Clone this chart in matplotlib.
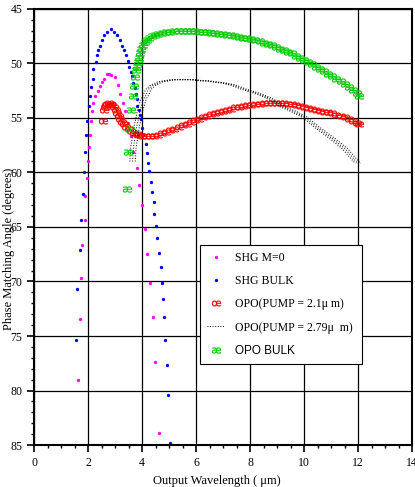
import matplotlib
matplotlib.use('Agg')
import matplotlib.pyplot as plt
from matplotlib.ticker import MultipleLocator

plt.rcParams['font.family'] = ['Liberation Serif', 'DejaVu Serif']

# SHG M=0 (magenta)
shg_m0_x = [1.64, 1.69, 1.75, 1.79, 1.88, 1.88, 1.95, 2.0, 2.03, 2.07, 2.11, 2.15,
            2.2, 2.27, 2.36, 2.43, 2.51, 2.59, 2.7, 2.78, 2.86, 3.0, 3.12, 3.19,
            3.28, 3.37, 3.47, 3.58, 3.68, 3.8, 3.9, 4.01, 4.1, 4.19, 4.3, 4.41,
            4.48, 4.62]
shg_m0_y = [79.0, 73.4, 69.7, 66.7, 64.4, 62.2, 60.5, 59.0, 57.7, 56.6, 55.3, 54.4,
            53.6, 53.0, 52.5, 52.1, 51.7, 51.4, 51.0, 51.0, 51.1, 51.3, 52.0, 52.8,
            53.6, 54.4, 55.5, 56.7, 58.1, 59.6, 61.2, 63.0, 65.2, 67.5, 70.1, 73.3,
            77.4, 83.9]

# SHG BULK (blue)
shg_bulk_x = [1.56, 1.60, 1.69, 1.73, 1.80, 1.84, 1.88, 1.93, 1.97, 2.05, 2.07, 2.10,
              2.20, 2.20, 2.28, 2.32, 2.38, 2.44, 2.52, 2.59, 2.70, 2.84, 2.95, 3.09,
              3.18, 3.27, 3.34, 3.41, 3.47, 3.53, 3.58, 3.64, 3.68, 3.73, 3.77, 3.80,
              3.83, 3.89, 3.91, 3.95, 3.99, 4.05, 4.14, 4.17, 4.21, 4.26, 4.32, 4.37,
              4.46, 4.46, 4.53, 4.57, 4.62, 4.69, 4.74, 4.78, 4.80, 4.85, 4.94, 4.96,
              5.04]
shg_bulk_y = [75.4, 70.7, 67.1, 64.4, 62.0, 60.0, 58.1, 56.6, 55.3, 53.9, 53.0, 52.2,
              51.4, 50.5, 49.9, 49.2, 48.8, 48.4, 47.9, 47.4, 47.1, 46.9, 47.1, 47.4,
              47.9, 48.4, 48.8, 49.2, 49.8, 50.3, 50.8, 51.2, 51.8, 52.3, 52.8, 53.3,
              53.9, 54.3, 54.7, 55.1, 55.9, 56.6, 57.4, 58.2, 59.1, 59.9, 60.9, 61.8,
              62.7, 63.8, 64.9, 66.0, 67.4, 68.7, 70.1, 71.6, 73.3, 75.4, 77.7, 80.4,
              84.8]

# OPO (pump = 2.1 um), red
opo21_x = [2.55, 2.58, 2.62, 2.67, 2.72, 2.78, 2.84, 2.9, 2.96, 3.02, 3.08, 3.14,
           3.2, 3.27, 3.34, 3.42, 3.5, 3.6, 3.7, 3.8, 3.9, 4.0, 4.15, 4.3, 4.45,
           4.6, 4.75, 4.9, 5.05, 5.2, 5.35, 5.5, 5.65, 5.8, 5.95, 6.1, 6.25, 6.4,
           6.55, 6.7, 6.85, 7.0, 7.15, 7.3, 7.45, 7.6, 7.75, 7.9, 8.05, 8.2, 8.35,
           8.5, 8.65, 8.8, 8.95, 9.1, 9.25, 9.4, 9.55, 9.7, 9.85, 10.0, 10.15,
           10.3, 10.45, 10.6, 10.75, 10.9, 11.05, 11.2, 11.35, 11.5, 11.65, 11.8,
           11.95, 12.05]
opo21_y = [55.3, 54.3, 54.0, 53.8, 53.7, 53.65, 53.7, 53.85, 54.05, 54.3, 54.55, 54.8,
           55.1, 55.35, 55.6, 55.85, 56.05, 56.25, 56.4, 56.5, 56.6, 56.65, 56.7, 56.7,
           56.65, 56.55, 56.4, 56.3, 56.15, 56.0, 55.85, 55.7, 55.55, 55.4, 55.2, 55.1,
           54.95, 54.8, 54.65, 54.55, 54.45, 54.35, 54.25, 54.15, 54.05, 54.0, 53.9,
           53.85, 53.8, 53.75, 53.7, 53.65, 53.65, 53.6, 53.6, 53.65, 53.65, 53.7,
           53.75, 53.85, 53.95, 54.05, 54.1, 54.2, 54.25, 54.35, 54.45, 54.5, 54.6,
           54.7, 54.85, 54.95, 55.1, 55.25, 55.45, 55.55]

# OPO (pump = 2.79 um), black; three nearby traces
opo279_x = [3.65, 3.68, 3.76, 3.80, 3.86, 3.93, 3.99, 4.05, 4.15, 4.23, 4.32, 4.42,
            4.55, 4.67, 4.9, 5.16, 5.5, 5.9, 6.15, 6.4, 6.8, 7.0, 7.38, 7.8, 8.2,
            8.62, 9.0, 9.23, 9.6, 10.0, 10.5, 11.1, 11.5, 12.0]
opo279_y = [59.0, 57.7, 56.5, 55.8, 55.2, 54.3, 53.8, 53.3, 52.9, 52.4, 52.2, 52.0,
            51.85, 51.7, 51.6, 51.5, 51.5, 51.5, 51.6, 51.6, 51.75, 51.8, 52.0, 52.4,
            52.7, 53.1, 53.6, 54.0, 54.4, 54.9, 55.9, 57.0, 57.8, 59.2]
opo279_shift = [-0.1, 0.0, 0.1]

# OPO BULK, green
bulk_x = [3.45, 3.49, 3.57, 3.59, 3.65, 3.69, 3.74, 3.78, 3.81, 3.84, 3.88, 3.92,
          3.97, 4.03, 4.1, 4.18, 4.27, 4.37, 4.48, 4.6, 4.75, 4.9, 5.05, 5.2, 5.35,
          5.5, 5.65, 5.8, 5.95, 6.1, 6.25, 6.4, 6.55, 6.7, 6.85, 7.0, 7.15, 7.3,
          7.45, 7.6, 7.75, 7.9, 8.05, 8.2, 8.35, 8.5, 8.65, 8.8, 8.95, 9.1, 9.25,
          9.4, 9.55, 9.7, 9.85, 10.0, 10.15, 10.3, 10.45, 10.6, 10.75, 10.9, 11.05,
          11.2, 11.35, 11.5, 11.65, 11.8, 11.95, 12.05]
bulk_y = [61.5, 58.1, 56.0, 54.3, 53.0, 52.1, 51.25, 50.6, 50.3, 49.9, 49.5, 49.1,
          48.7, 48.35, 48.05, 47.85, 47.65, 47.5, 47.4, 47.3, 47.2, 47.15, 47.1, 47.05,
          47.0, 47.0, 47.0, 47.0, 47.05, 47.1, 47.1, 47.15, 47.2, 47.25, 47.3, 47.35,
          47.4, 47.45, 47.5, 47.55, 47.65, 47.7, 47.8, 47.9, 48.0, 48.1, 48.2, 48.35,
          48.5, 48.65, 48.8, 48.95, 49.1, 49.3, 49.5, 49.7, 49.9, 50.1, 50.3, 50.5,
          50.75, 50.95, 51.2, 51.4, 51.65, 51.9, 52.15, 52.45, 52.75, 53.0]

labels = ['SHG M=0', 'SHG BULK', 'OPO(PUMP = 2.1\u03bc m)',
          'OPO(PUMP = 2.79\u03bc  m)', 'OPO BULK']

fig = plt.figure(figsize=(4.15, 4.87), dpi=100)
ax = fig.add_axes([0.082, 0.086, 0.911, 0.896])

ax.plot(shg_m0_x, shg_m0_y, ls='none', marker='o', ms=2.4, mew=0,
        color='#ff00ff', label=labels[0])
ax.plot(shg_bulk_x, shg_bulk_y, ls='none', marker='o', ms=2.4, mew=0,
        color='#0000ff', label=labels[1])
ax.plot(opo21_x, opo21_y, ls='none', marker='$\\mathrm{\u0153}$', ms=6.5, mew=0.2,
        color='#ff0000', label=labels[2])
for i, dx in enumerate(opo279_shift):
    ax.plot([x + dx for x in opo279_x], opo279_y, ls=':', lw=0.7, color='black',
            label=labels[3] if i == 0 else None)
ax.plot(bulk_x, bulk_y, ls='none', marker='$\\mathrm{\u00e6}$', ms=6.5, mew=0.2,
        color='#00cc00', label=labels[4])

ax.set_xlim(0, 14)
ax.set_ylim(85, 45)
ax.xaxis.set_major_locator(MultipleLocator(2))
ax.xaxis.set_minor_locator(MultipleLocator(0.5))
ax.yaxis.set_major_locator(MultipleLocator(5))
ax.yaxis.set_minor_locator(MultipleLocator(1))
ax.grid(True, which='major', color='black', lw=0.9)
ax.tick_params(which='major', direction='out', length=5, width=1.2, labelsize=8.5)
ax.tick_params(which='minor', direction='out', length=2.5, width=1)
for s in ax.spines.values():
    s.set_linewidth(1.5)

ax.set_xlabel('Output Wavelength ( \u03bcm)', fontsize=9)
ax.set_ylabel('Phase Matching Angle (degrees)', fontsize=9)
ax.xaxis.set_label_coords(0.484, -0.068)
ax.yaxis.set_label_coords(-0.05, 0.45)

leg = ax.legend(loc='upper left', bbox_to_anchor=(0.439, 0.459, 0.429, 0.0),
                mode='expand', borderaxespad=0, fontsize=8.5, labelspacing=0.95,
                handlelength=1.5, handletextpad=0.9, borderpad=0.6, fancybox=False,
                framealpha=1, edgecolor='black')
leg.get_frame().set_linewidth(0.8)
leg.get_texts()[4].set_family('Liberation Sans')

fig.savefig('out.png', dpi=100)
